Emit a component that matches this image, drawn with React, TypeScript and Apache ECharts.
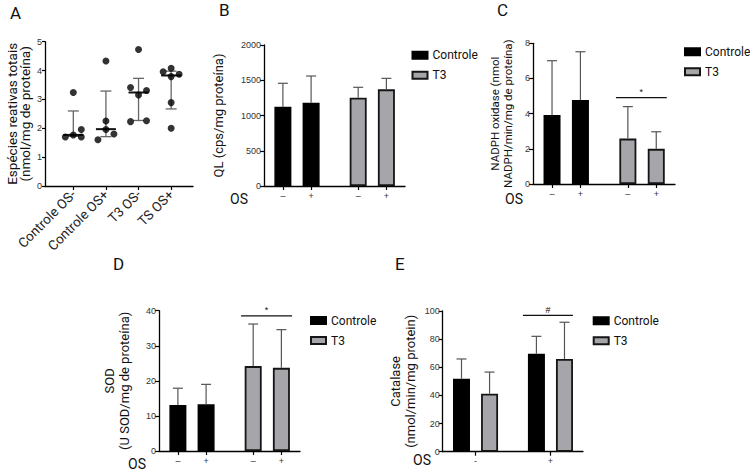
import React, { useEffect, useRef } from "react";
import * as echarts from "echarts";

// ---------- Panel A (scatter, median with range) ----------
const groupsA = ["Controle OS-", "Controle OS+", "T3 OS-", "TS OS+"];
const pointsA = [
  [1.7, 1.77, 1.7, 1.96, 3.24],
  [1.6, 1.96, 1.8, 2.25, 4.33],
  [3.41, 3.31, 3.15, 2.23, 2.26, 4.73],
  [3.96, 4.08, 3.87, 3.79, 2.89, 2.0],
];
const jitterA = [
  [-1, 0, 1, 1, 0],
  [-1, 0, 1, 0, 0],
  [-1, 1, 0, -1, 1, 0],
  [-1, 0, 1, 0, 0, 0],
];
const medianA = [1.77, 1.97, 3.24, 3.83];
const lowA = [1.72, 1.71, 2.27, 2.67];
const highA = [2.6, 3.29, 3.73, 3.98];

// ---------- Bar panels ----------
const osTicks = ["–", "+", "–", "+"];
const osTicksE = ["-", "+"];

const controleB = [1125, 1182];
const controleBTop = [1457, 1560];
const t3B = [1252, 1371];
const t3BTop = [1400, 1527];

const controleC = [3.92, 4.78];
const controleCTop = [7.01, 7.52];
const t3C = [2.58, 2.0];
const t3CTop = [4.4, 2.97];

const controleD = [13.1, 13.3];
const controleDTop = [17.9, 19.0];
const t3D = [24.2, 23.7];
const t3DTop = [36.2, 34.6];

const controleE = [51.9, 69.6];
const controleETop = [65.9, 82.0];
const t3E = [41.2, 65.9];
const t3ETop = [56.6, 92.0];

const FONT_N = "Roboto, 'Liberation Sans', sans-serif";
const FONT_T = "'Liberation Sans', Arial, sans-serif";

// slot layout on the bar-panel value axes
const SLOT_MIN = -0.67;
const SLOT_MAX = 4.33;
const slotsAll = [0, 1, 2.67, 3.67];

type BarCfg = {
  gi: number;
  ctrlPos: number[];
  t3Pos: number[];
  ctrl: number[];
  ctrlTop: number[];
  t3: number[];
  t3Top: number[];
  ticks: number[];
  tickLabels: string[];
  yMax: number;
  yInterval: number;
  yName: string;
  nameGap: number;
  nameSize: number;
  sig?: { x1: number; x2: number; y: number; label: string };
};

function errSeries(gi: number, pos: number[], mean: number[], top: number[]) {
  return {
    type: "custom",
    xAxisIndex: gi,
    yAxisIndex: gi,
    z: 3,
    silent: true,
    data: pos.map((x, i) => [x, mean[i], top[i]]),
    encode: { x: 0, y: [1, 2] },
    renderItem: (params: any, api: any) => {
      const x = api.value(0);
      const p0 = api.coord([x, api.value(1)]);
      const p1 = api.coord([x, api.value(2)]);
      const st = { stroke: "#555", lineWidth: 1.2 };
      return {
        type: "group",
        children: [
          { type: "line", shape: { x1: p0[0], y1: p0[1], x2: p1[0], y2: p1[1] }, style: st },
          { type: "line", shape: { x1: p1[0] - 5, y1: p1[1], x2: p1[0] + 5, y2: p1[1] }, style: st },
        ],
      };
    },
  };
}

function barPanel(c: BarCfg) {
  const xAxis = {
    gridIndex: c.gi,
    type: "value",
    min: SLOT_MIN,
    max: SLOT_MAX,
    axisLine: { show: true, onZero: false, lineStyle: { color: "#000", width: 1.3 } },
    axisTick: { show: true, customValues: c.ticks, length: 4, lineStyle: { color: "#000", width: 1.2 } },
    axisLabel: {
      customValues: c.ticks,
      formatter: (v: number) => {
        const i = c.ticks.findIndex((t) => Math.abs(t - v) < 0.01);
        return i >= 0 ? c.tickLabels[i] : "";
      },
      fontSize: 9,
      margin: 5,
      color: "#333",
      fontFamily: FONT_T,
    },
    splitLine: { show: false },
  };
  const yAxis = {
    gridIndex: c.gi,
    type: "value",
    min: 0,
    max: c.yMax,
    interval: c.yInterval,
    axisLine: { show: true, onZero: false, lineStyle: { color: "#000", width: 1.3 } },
    axisTick: { show: true, length: 4, lineStyle: { color: "#000", width: 1.2 } },
    axisLabel: { fontSize: 9, margin: 3, color: "#333", fontFamily: FONT_T, formatter: (v: number) => String(v) },
    splitLine: { show: false },
    name: c.yName,
    nameLocation: "middle",
    nameGap: c.nameGap,
    nameTextStyle: { fontFamily: FONT_N, fontSize: c.nameSize, color: "#111", lineHeight: c.nameSize + 2 },
  };
  const series: any[] = [
    {
      type: "bar",
      name: "Controle",
      xAxisIndex: c.gi,
      yAxisIndex: c.gi,
      data: c.ctrlPos.map((x, i) => [x, c.ctrl[i]]),
      barWidth: 17,
      barGap: "-100%",
      itemStyle: { color: "#000", borderColor: "#000", borderWidth: 1.5 },
    },
    {
      type: "bar",
      name: "T3",
      xAxisIndex: c.gi,
      yAxisIndex: c.gi,
      data: c.t3Pos.map((x, i) => [x, c.t3[i]]),
      barWidth: 17,
      barGap: "-100%",
      itemStyle: { color: "#a6a6aa", borderColor: "#151515", borderWidth: 1.8 },
    },
    errSeries(c.gi, c.ctrlPos, c.ctrl, c.ctrlTop),
    errSeries(c.gi, c.t3Pos, c.t3, c.t3Top),
  ];
  if (c.sig) {
    const s = c.sig;
    series.push({
      type: "custom",
      xAxisIndex: c.gi,
      yAxisIndex: c.gi,
      silent: true,
      z: 4,
      data: [[s.x1, s.x2, s.y]],
      encode: { x: [0, 1], y: 2 },
      renderItem: (params: any, api: any) => {
        const a = api.coord([api.value(0), api.value(2)]);
        const b = api.coord([api.value(1), api.value(2)]);
        return {
          type: "group",
          children: [
            { type: "line", shape: { x1: a[0], y1: a[1], x2: b[0], y2: b[1] }, style: { stroke: "#111", lineWidth: 1.3 } },
            {
              type: "text",
              x: (a[0] + b[0]) / 2,
              y: a[1] - 1,
              style: { text: s.label, align: "center", verticalAlign: "bottom", fontSize: 9, fill: "#111", fontFamily: FONT_T },
            },
          ],
        };
      },
    });
  }
  return { xAxis, yAxis, series };
}

export default function App() {
  const ref = useRef<HTMLDivElement>(null);
  useEffect(() => {
    if (!ref.current) return;
    const chart = echarts.init(ref.current, undefined, { renderer: "svg" });

    const panels = [
      barPanel({
        gi: 1, ctrlPos: [0, 1], t3Pos: [2.67, 3.67], ctrl: controleB, ctrlTop: controleBTop, t3: t3B, t3Top: t3BTop,
        ticks: slotsAll, tickLabels: osTicks, yMax: 2000, yInterval: 500, yName: "QL (cps/mg proteína)", nameGap: 38, nameSize: 13,
      }),
      barPanel({
        gi: 2, ctrlPos: [0, 1], t3Pos: [2.67, 3.67], ctrl: controleC, ctrlTop: controleCTop, t3: t3C, t3Top: t3CTop,
        ticks: slotsAll, tickLabels: osTicks, yMax: 8, yInterval: 2, yName: "NADPH oxidase (nmol\nNADPH/min/mg de proteína)", nameGap: 18, nameSize: 11.5,
        sig: { x1: 2.25, x2: 4.04, y: 4.91, label: "*" },
      }),
      barPanel({
        gi: 3, ctrlPos: [0, 1], t3Pos: [2.67, 3.67], ctrl: controleD, ctrlTop: controleDTop, t3: t3D, t3Top: t3DTop,
        ticks: slotsAll, tickLabels: osTicks, yMax: 40, yInterval: 10, yName: "SOD\n(U SOD/mg de proteína)", nameGap: 27, nameSize: 13,
        sig: { x1: 2.24, x2: 4.05, y: 38.5, label: "*" },
      }),
      barPanel({
        gi: 4, ctrlPos: [0, 2.67], t3Pos: [1, 3.67], ctrl: controleE, ctrlTop: controleETop, t3: t3E, t3Top: t3ETop,
        ticks: [0.5, 3.17], tickLabels: osTicksE, yMax: 100, yInterval: 20, yName: "Catalase\n(nmol/min/mg protein)", nameGap: 25, nameSize: 13,
        sig: { x1: 2.19, x2: 3.97, y: 96.9, label: "#" },
      }),
    ];

    const jit = 0.245;
    const scatterData: number[][] = [];
    pointsA.forEach((g, gi) => g.forEach((v, k) => scatterData.push([gi + jitterA[gi][k] * jit, v])));

    const legendBase = {
      data: ["Controle", "T3"],
      orient: "vertical",
      icon: "rect",
      itemWidth: 15,
      itemHeight: 7,
      itemGap: 8,
      padding: 0,
      selectedMode: false,
      textStyle: { fontFamily: FONT_N, fontSize: 12, color: "#111", overflow: "none" },
    };

    const textEl = (t: string, x: number, y: number, size: number) => ({
      type: "text",
      x,
      y,
      style: { text: t, fontSize: size, fontFamily: FONT_N, fill: "#111", align: "left", verticalAlign: "top" },
    });

    chart.setOption({
      animation: false,
      backgroundColor: "#fff",
      grid: [
        { left: 45, top: 41.7, width: 148, height: 144.3 },
        { left: 264, top: 45, width: 141, height: 141 },
        { left: 533, top: 43.3, width: 142, height: 140.7 },
        { left: 159, top: 310.7, width: 141, height: 140.3 },
        { left: 442.7, top: 311, width: 140.3, height: 140.7 },
      ],
      xAxis: [
        {
          gridIndex: 0,
          type: "value",
          min: -0.868,
          max: 3.67,
          axisLine: { show: true, onZero: false, lineStyle: { color: "#000", width: 1.3 } },
          axisTick: { show: true, customValues: [0, 1, 2, 3], length: 4, lineStyle: { color: "#000", width: 1.2 } },
          axisLabel: {
            customValues: [0, 1, 2, 3],
            formatter: (v: number) => groupsA[Math.round(v)] ?? "",
            rotate: 45,
            fontSize: 13.5,
            margin: 6,
            color: "#222",
            fontFamily: FONT_N,
          },
          splitLine: { show: false },
        },
        ...panels.map((p) => p.xAxis),
      ],
      yAxis: [
        {
          gridIndex: 0,
          type: "value",
          min: 0,
          max: 5,
          interval: 1,
          axisLine: { show: true, onZero: false, lineStyle: { color: "#000", width: 1.3 } },
          axisTick: { show: true, length: 3, lineStyle: { color: "#000", width: 1.2 } },
          axisLabel: { fontSize: 9, margin: 3, color: "#333", fontFamily: FONT_T },
          splitLine: { show: false },
          name: "Espécies reativas totais\n(nmol/mg de proteína)",
          nameLocation: "middle",
          nameGap: 14,
          nameTextStyle: { fontFamily: FONT_N, fontSize: 13.5, color: "#111", lineHeight: 13 },
        },
        ...panels.map((p) => p.yAxis),
      ],
      legend: [
        { ...legendBase, left: 411.5, top: 49.3 },
        { ...legendBase, left: 684, top: 45.7 },
        { ...legendBase, left: 310, top: 314.5 },
        { ...legendBase, left: 592.7, top: 314.7 },
      ],
      series: [
        {
          type: "custom",
          xAxisIndex: 0,
          yAxisIndex: 0,
          silent: true,
          data: medianA.map((m, i) => [i, lowA[i], m, highA[i]]),
          encode: { x: 0, y: [1, 2, 3] },
          renderItem: (params: any, api: any) => {
            const x = api.value(0);
            const lo = api.coord([x, api.value(1)]);
            const md = api.coord([x, api.value(2)]);
            const hi = api.coord([x, api.value(3)]);
            const st = { stroke: "#666", lineWidth: 1.3 };
            return {
              type: "group",
              children: [
                { type: "line", shape: { x1: lo[0], y1: lo[1], x2: hi[0], y2: hi[1] }, style: st },
                { type: "line", shape: { x1: hi[0] - 5.5, y1: hi[1], x2: hi[0] + 5.5, y2: hi[1] }, style: st },
                { type: "line", shape: { x1: lo[0] - 5.5, y1: lo[1], x2: lo[0] + 5.5, y2: lo[1] }, style: st },
                { type: "line", shape: { x1: md[0] - 10, y1: md[1], x2: md[0] + 10, y2: md[1] }, style: { stroke: "#111", lineWidth: 2 } },
              ],
            };
          },
        },
        {
          type: "scatter",
          xAxisIndex: 0,
          yAxisIndex: 0,
          symbol: "circle",
          symbolSize: 7,
          itemStyle: { color: "#000" },
          data: scatterData,
          z: 5,
        },
        ...panels.flatMap((p) => p.series),
      ],
      graphic: [
        textEl("A", 10, 4, 17),
        textEl("B", 219, 1, 17),
        textEl("C", 497, 1, 17),
        textEl("D", 113, 255, 17),
        textEl("E", 395, 255, 17),
        textEl("OS", 230, 192, 14),
        textEl("OS", 505, 192, 14),
        textEl("OS", 128, 457, 14),
        textEl("OS", 413, 453, 14),
      ],
    });
    return () => chart.dispose();
  }, []);
  return <div ref={ref} style={{ position: "fixed", left: 0, top: 0, width: 750, height: 471 }} />;
}
